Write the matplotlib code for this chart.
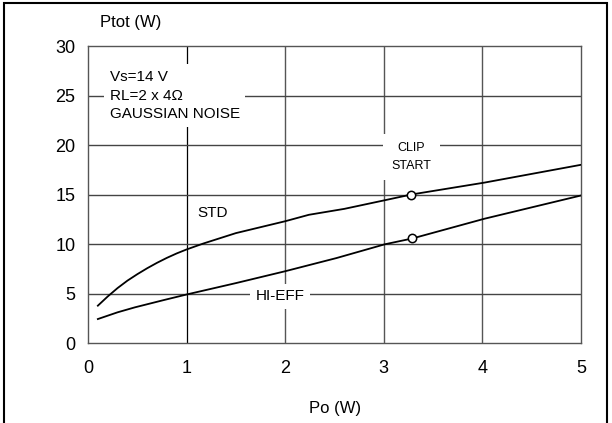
import numpy as np
import matplotlib.pyplot as plt
from matplotlib.patches import Rectangle

plt.rcParams['font.family'] = ['Liberation Sans', 'DejaVu Sans']

# curve data
std_x = [0.1, 0.2, 0.3, 0.4, 0.5, 0.6, 0.7, 0.8, 0.9, 1.0, 1.17, 1.5, 2.0, 2.24, 2.6, 3.0, 3.28, 4.02, 5.0]
std_y = [3.77, 4.7, 5.55, 6.3, 6.95, 7.55, 8.1, 8.6, 9.05, 9.45, 10.05, 11.1, 12.3, 12.95, 13.55, 14.4, 15.0, 16.2, 18.0]
eff_x = [0.1, 0.3, 0.475, 0.77, 1.0, 1.5, 2.0, 2.52, 3.01, 3.29, 4.02, 5.0]
eff_y = [2.42, 3.1, 3.6, 4.34, 4.9, 6.05, 7.25, 8.58, 9.97, 10.56, 12.55, 14.9]
clip_x = [3.28, 3.29]
clip_y = [15.0, 10.56]

xticks = [0, 1, 2, 3, 4, 5]
yticks = [0, 5, 10, 15, 20, 25, 30]

fig = plt.figure(figsize=(6.12, 4.23), dpi=100)
ax = fig.add_axes([88/612, 1-343/423, (581-88)/612, (343-46)/423])

for x in xticks[1:-1]:
    ax.axvline(x, color='black' if x == 1 else '#555555', lw=0.9 if x == 1 else 1.0, zorder=1)
for y in yticks[1:-1]:
    ax.axhline(y, color='#444444', lw=1.0, zorder=1)

ax.plot(std_x, std_y, color='black', lw=1.3, zorder=3)
ax.plot(eff_x, eff_y, color='black', lw=1.3, zorder=3)
ax.plot(clip_x, clip_y, 'o', ms=6, mfc='white', mec='black', mew=1.1, zorder=4)

ax.text(0.22, 25.0, 'Vs=14 V\nRL=2 x 4Ω\nGAUSSIAN NOISE', fontsize=11, va='center', ha='left',
        linespacing=1.45, bbox=dict(facecolor='white', edgecolor='none', pad=4), zorder=2)
ax.text(3.28, 18.8, 'CLIP\nSTART', fontsize=9, ha='center', va='center', linespacing=1.6,
        bbox=dict(facecolor='white', edgecolor='none', pad=6), zorder=2)
ax.text(1.95, 4.7, 'HI-EFF', fontsize=11, ha='center', va='center',
        bbox=dict(facecolor='white', edgecolor='none', pad=4), zorder=2)
ax.text(1.26, 13.1, 'STD', fontsize=11, ha='center', va='center', zorder=2)

ax.set_xlim(0, 5)
ax.set_ylim(0, 30)
ax.set_xticks(xticks)
ax.set_yticks(yticks)
ax.tick_params(length=0, labelsize=13)
ax.tick_params(axis='x', pad=12)
ax.tick_params(axis='y', pad=9)
for s in ax.spines.values():
    s.set_color('#555555')
    s.set_linewidth(1.0)

fig.text(100/612, 1-22/423, 'Ptot (W)', fontsize=12, ha='left', va='center')
fig.text(335/612, 1-408/423, 'Po (W)', fontsize=12, ha='center', va='center')

fig.patches.append(Rectangle((4/612, -0.05), 603/612, 1-3/423+0.05, transform=fig.transFigure,
                             fill=False, edgecolor='black', lw=1.5))

fig.savefig('out.png', dpi=100)
